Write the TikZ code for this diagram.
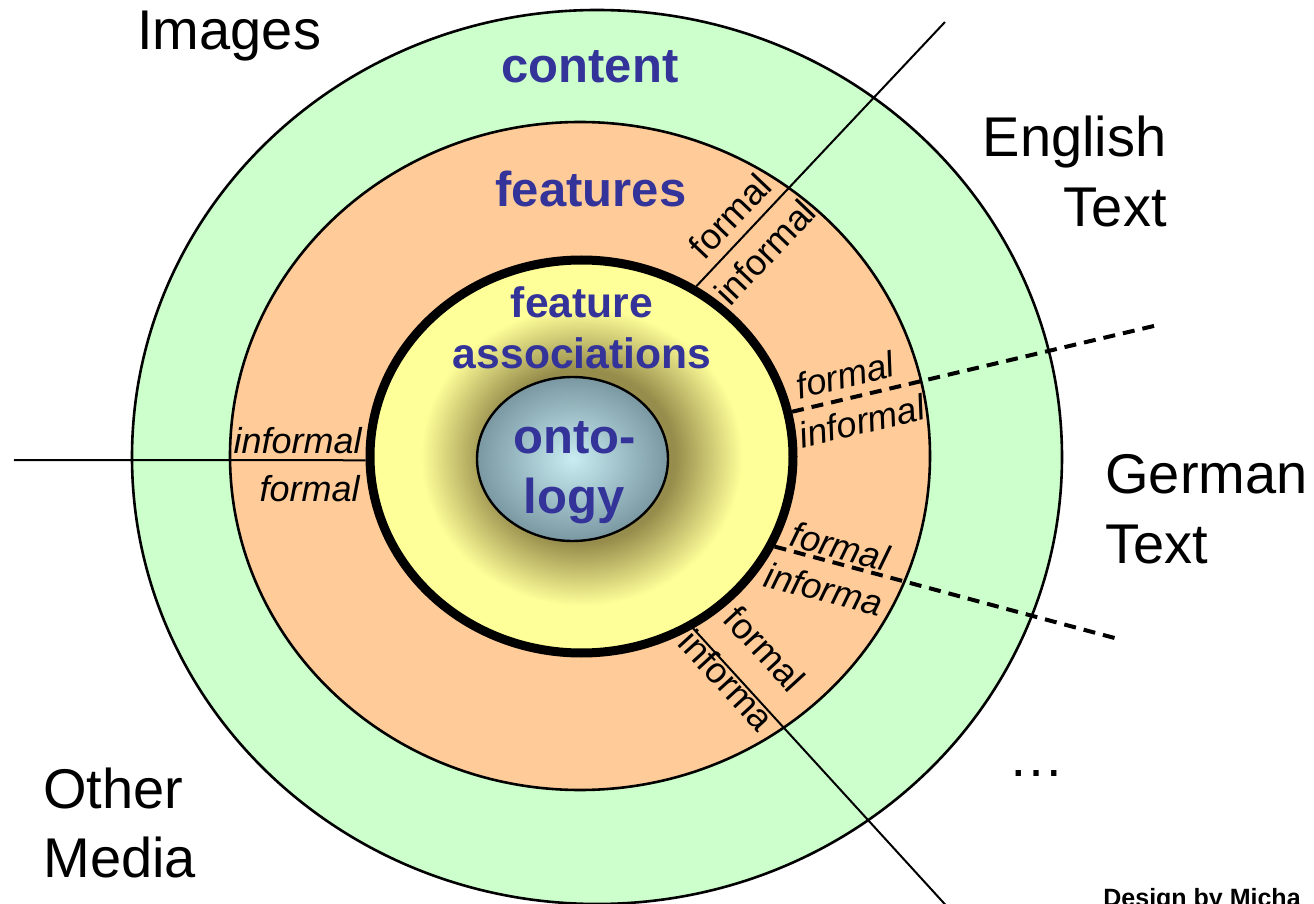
\documentclass[tikz,border=0pt]{standalone}
\usepackage{fontspec}
\setmainfont{Liberation Sans}
\usetikzlibrary{shapes.geometric}
\definecolor{mediagreen}{RGB}{204,255,204}
\definecolor{featorange}{RGB}{255,204,153}
\definecolor{assocyellow}{RGB}{255,255,153}
\definecolor{assocolive}{RGB}{150,140,75}
\definecolor{ontolight}{RGB}{200,236,242}
\definecolor{ontodark}{RGB}{122,152,162}
\definecolor{labelblue}{RGB}{51,51,153}
\pgfdeclareradialshading{assocglow}{\pgfpoint{0bp}{0bp}}{color(0bp)=(assocolive); color(11bp)=(assocolive); color(19bp)=(assocyellow); color(50bp)=(assocyellow)}
\pgfdeclareradialshading{ontoglow}{\pgfpoint{0bp}{0bp}}{color(0bp)=(ontolight); color(25bp)=(ontodark); color(50bp)=(ontodark)}
\tikzset{layer/.style={draw=black,ellipse,inner sep=0pt,line width=1.3pt}}

\begin{document}
\begin{tikzpicture}[x=0.5pt, y=-0.5pt,
        ring/.style={font=\bfseries\fontsize{24.5}{30}\selectfont, text=labelblue, inner sep=0pt},
        media/.style={font=\fontsize{28}{34}\selectfont, inner sep=0pt},
        side/.style={font=\itshape\fontsize{18}{20}\selectfont, inner sep=0pt},
        sideup/.style={font=\fontsize{18}{20}\selectfont, inner sep=0pt},
        cut/.style={line width=1pt},
        soft/.style={line width=2pt, dash pattern=on 6pt off 4pt}]
        \useasboundingbox (0,0) rectangle (1314,904);
        \clip (0,0) rectangle (1314,904);
        \fill[white] (0,0) rectangle (1314,904);
        % rings, outside in
        \node[layer, fill=mediagreen, minimum width=465pt, minimum height=447pt] (content) at (597,457) {};
        \node[layer, fill=featorange, minimum width=350pt, minimum height=334pt] (features) at (580,456) {};
        \node[layer, shade, shading=assocglow, line width=4.5pt, minimum width=211.5pt, minimum height=196.5pt] (assoc) at (581.5,456.5) {};
        \node[layer, shade, shading=ontoglow, line width=1.2pt, minimum width=95.5pt, minimum height=82pt] (onto) at (572.5,459) {};
        % free ends of the cuts
        \coordinate (english-end) at (945,22);
        \coordinate (enger-end) at (1158,325);
        \coordinate (gerother-end) at (1122,640);
        \coordinate (dots-end) at (952,912);
        \coordinate (images-end) at (14,460);
        \draw[cut] (assoc.56.5) -- (english-end);
        \draw[soft] (assoc.12) -- (enger-end);
        \draw[soft] (assoc.-25.5) -- (gerother-end);
        \draw[cut] (assoc.-57.4) -- (dots-end);
        \draw[cut] (assoc.181.7) -- (images-end);
        % ring labels
        \node[ring, anchor=base] (content-lbl) at (590,83) {content};
        \node[ring, anchor=base] (features-lbl) at (591,207) {features};
        \node[ring, font=\bfseries\fontsize{21.3}{25}\selectfont, anchor=base] (assoc-lbl1) at (582,318) {feature};
        \node[ring, font=\bfseries\fontsize{21.3}{25}\selectfont, anchor=base] (assoc-lbl2) at (582,368) {associations};
        \node[ring, anchor=base] (onto-lbl1) at (575,453) {onto-};
        \node[ring, anchor=base] (onto-lbl2) at (574,513) {logy};
        % media
        \node[media, anchor=base west] (images) at (137,50) {Images};
        \node[media, anchor=base east] (english1) at (1167,157) {English};
        \node[media, anchor=base east] (english2) at (1167,227) {Text};
        \node[media, anchor=base west] (german1) at (1105,493) {German};
        \node[media, anchor=base west] (german2) at (1105,563) {Text};
        \node[media, anchor=base west] (other1) at (43,808) {Other};
        \node[media, anchor=base west] (other2) at (43,877) {Media};
        \node[media, anchor=base west] (more) at (1008,776) {…};
        \node[font=\bfseries\fontsize{12.5}{14}\selectfont, inner sep=0pt, anchor=base west] (design) at (1103,906) {Design by Micha};
        % formal / informal along the cuts
        \node[side, anchor=base east] (f1) at (362,453) {informal};
        \node[side, anchor=base east] (f2) at (360,502) {formal};
        \node[sideup, rotate=46.5] (f3) at (730,216) {formal};
        \node[sideup, rotate=46.5] (f4) at (765,252) {informal};
        \node[side, rotate=13.3] (f5) at (845,375) {formal};
        \node[side, rotate=13.3] (f6) at (862,421) {informal};
        \node[side, rotate=-14.8] (f7) at (840,546) {formal};
        \node[side, rotate=-14.8] (f8) at (824,589) {informa};
        \node[sideup, rotate=-47.5] (f9) at (765,649) {formal};
        \node[sideup, rotate=-47.5] (f10) at (727,680) {informa};
\end{tikzpicture}
\end{document}
